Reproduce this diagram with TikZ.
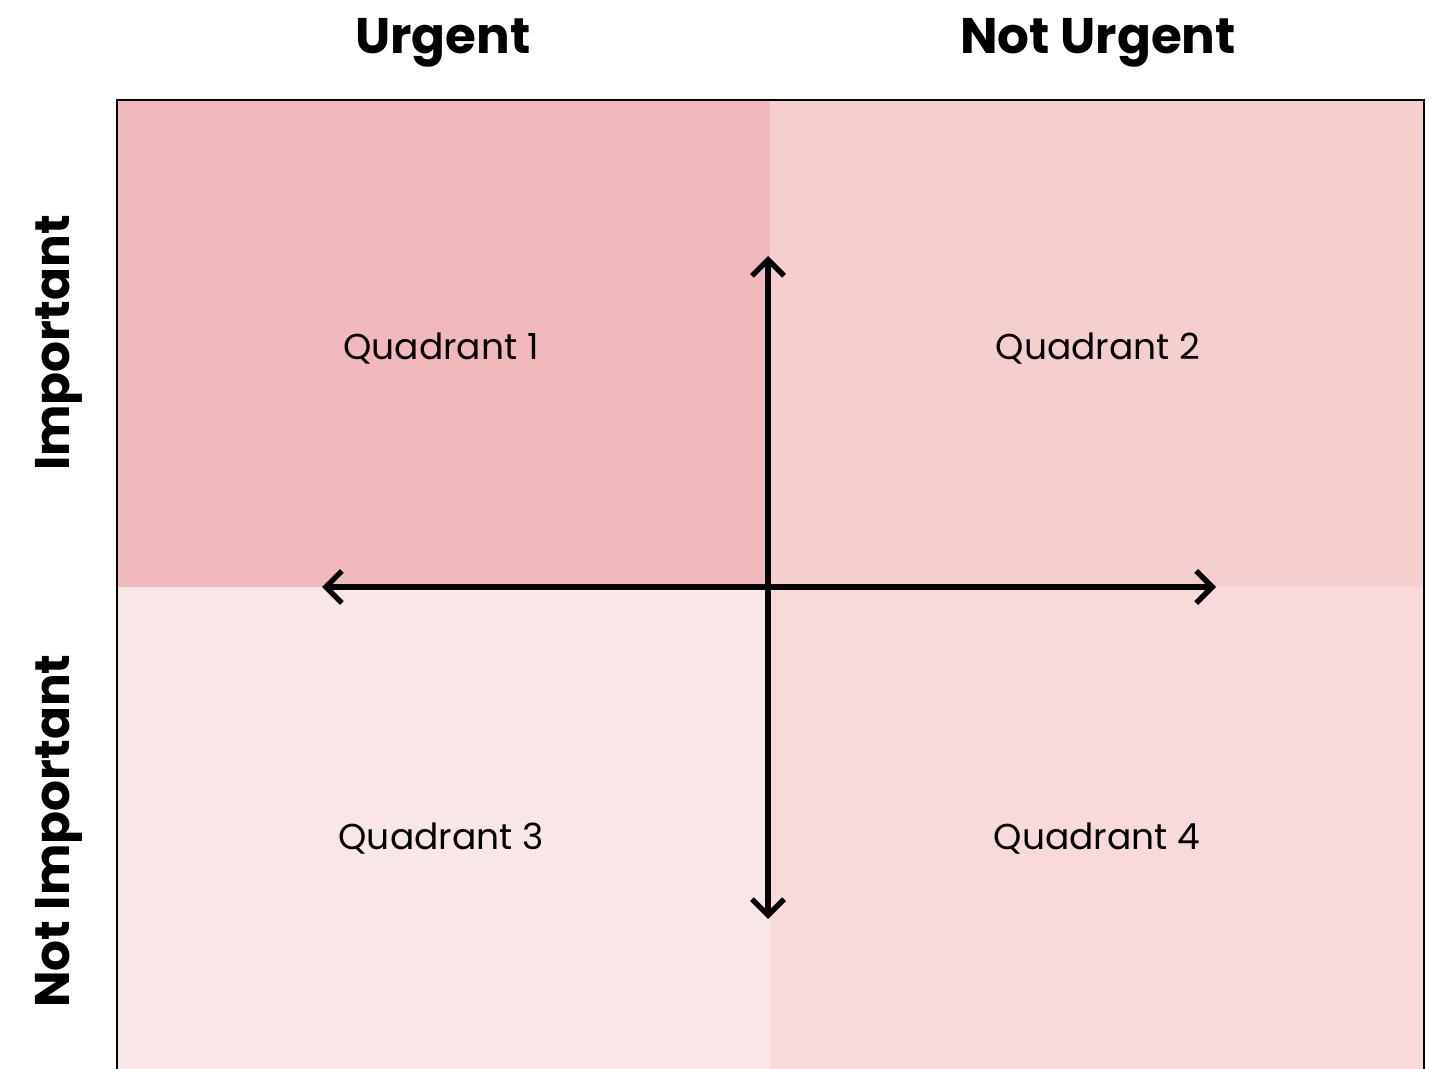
\documentclass[tikz,border=0pt]{standalone}
\usepackage{fontspec}
\setmainfont{Poppins}
\usetikzlibrary{positioning,arrows.meta}
\definecolor{qone}{HTML}{F1B9BB}
\definecolor{qtwo}{HTML}{F5CFCE}
\definecolor{qthree}{HTML}{F9E7E7}
\definecolor{qfour}{HTML}{F8DADB}

\begin{document}
\begin{tikzpicture}[
  x=0.5pt, y=-0.5pt,
  head/.style={font=\fontsize{25}{30}\selectfont\bfseries},
  side/.style={font=\fontsize{24.3}{29}\selectfont\bfseries, rotate=90},
  quad/.style={font=\fontsize{18}{22}\selectfont},
  axis/.style={line width=2.7pt, {Straight Barb[length=8pt,width=16pt,line width=2.7pt]}-{Straight Barb[length=8pt,width=16pt,line width=2.7pt]}},
  >=latex
]
\useasboundingbox (0,0) rectangle (1431,1069);
% the four coloured fields
\fill[qone] (117,100) rectangle (770,587);
\fill[qtwo] (770,100) rectangle (1424,587);
\fill[qthree] (117,587) rectangle (770,1069);
\fill[qfour] (770,587) rectangle (1424,1069);
\draw[line width=1pt] (117,1069) -- (117,100) -- (1424,100) -- (1424,1069);

% column and row headings
\node[head] (urg) at (443,43) {Urgent};
\node[head] (nurg) at (1098,43) {Not Urgent};
\node[side] (imp) at (59,343) {Important};
\node[side] (nimp) at (59,831) {Not Important};

% quadrant labels
\node[quad] (q1) at (441,349) {Quadrant 1};
\node[quad] (q2) at (1098,349) {Quadrant 2};
\node[quad] (q3) at (441,839) {Quadrant 3};
\node[quad] (q4) at (1097,839) {Quadrant 4};

% axes
\coordinate (top) at (768,256);
\coordinate (bot) at (768,919);
\coordinate (lft) at (322,587);
\coordinate (rgt) at (1216,587);
\draw[axis] (bot) -- (top);
\draw[axis] (lft) -- (rgt);
\end{tikzpicture}
\end{document}
